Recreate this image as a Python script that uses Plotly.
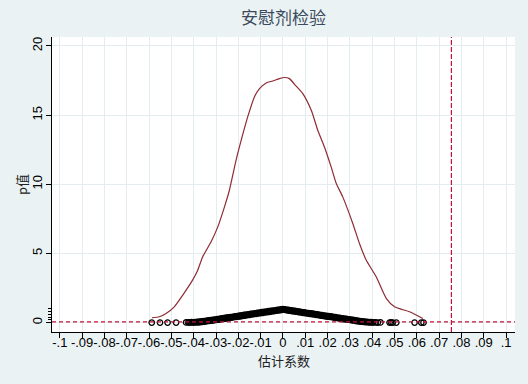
import plotly.graph_objects as go

# ---- data ----
# kernel density of placebo coefficients (x = coefficient, y = density)
dens_x = [-0.0587, -0.0554, -0.0524, -0.0487, -0.0449, -0.0405, -0.0382, -0.0360,
          -0.0322, -0.0292, -0.0262, -0.0240, -0.0210, -0.0187, -0.0158, -0.0128,
          -0.0105, -0.0075, -0.0046, -0.0016, 0.0007, 0.0029, 0.0052, 0.0089,
          0.0127, 0.0156, 0.0186, 0.0216, 0.0239, 0.0268, 0.0313, 0.0343,
          0.0373, 0.0418, 0.0463, 0.0500, 0.0567, 0.0627]
dens_y = [0.35, 0.42, 0.66, 1.14, 1.99, 3.07, 3.79, 4.75,
          5.84, 6.92, 8.37, 9.57, 11.75, 13.19, 14.87, 16.32,
          16.92, 17.33, 17.47, 17.64, 17.72, 17.64, 17.23, 16.56,
          15.35, 13.91, 12.70, 11.26, 10.06, 9.09, 7.17, 5.72,
          4.52, 3.31, 1.75, 1.14, 0.78, 0.30]

# estimated coefficients and p-values of the placebo regressions
coef = [-0.0588, -0.0551, -0.0517, -0.0479, -0.0434,
        -0.0425, -0.0420, -0.0415, -0.0410, -0.0405, -0.0400, -0.0395, -0.0390,
        -0.0385, -0.0380, -0.0375, -0.0370, -0.0365, -0.0360, -0.0355, -0.0350,
        -0.0345, -0.0340, -0.0335, -0.0330, -0.0325, -0.0320, -0.0315, -0.0310,
        -0.0305, -0.0300, -0.0295, -0.0290, -0.0285, -0.0280, -0.0275, -0.0270,
        -0.0265, -0.0260, -0.0255, -0.0250, -0.0245, -0.0240, -0.0235, -0.0230,
        -0.0225, -0.0220, -0.0215, -0.0210, -0.0205, -0.0200, -0.0195, -0.0190,
        -0.0185, -0.0180, -0.0175, -0.0170, -0.0165, -0.0160, -0.0155, -0.0150,
        -0.0145, -0.0140, -0.0135, -0.0130, -0.0125, -0.0120, -0.0115, -0.0110,
        -0.0105, -0.0100, -0.0095, -0.0090, -0.0085, -0.0080, -0.0075, -0.0070,
        -0.0065, -0.0060, -0.0055, -0.0050, -0.0045, -0.0040, -0.0035, -0.0030,
        -0.0025, -0.0020, -0.0015, -0.0010, -0.0005, 0.0000,
        0.0005, 0.0010, 0.0015, 0.0020, 0.0025, 0.0030, 0.0035, 0.0040,
        0.0045, 0.0050, 0.0055, 0.0060, 0.0065, 0.0070, 0.0075, 0.0080,
        0.0085, 0.0090, 0.0095, 0.0100, 0.0105, 0.0110, 0.0115, 0.0120,
        0.0125, 0.0130, 0.0135, 0.0140, 0.0145, 0.0150, 0.0155, 0.0160,
        0.0165, 0.0170, 0.0175, 0.0180, 0.0185, 0.0190, 0.0195, 0.0200,
        0.0205, 0.0210, 0.0215, 0.0220, 0.0225, 0.0230, 0.0235, 0.0240,
        0.0245, 0.0250, 0.0255, 0.0260, 0.0265, 0.0270, 0.0275, 0.0280,
        0.0285, 0.0290, 0.0295, 0.0300, 0.0305, 0.0310, 0.0315, 0.0320,
        0.0325, 0.0330, 0.0335, 0.0340, 0.0345, 0.0350, 0.0355, 0.0360,
        0.0365, 0.0370, 0.0375, 0.0380, 0.0385, 0.0390, 0.0395, 0.0400,
        0.0405, 0.0415, 0.0425, 0.0437, 0.0478, 0.0485, 0.0492, 0.0508,
        0.0590, 0.0620, 0.0630]
pval = [0.00, 0.00, 0.00, 0.00, 0.01,
        0.01, 0.02, 0.01, 0.03, 0.02, 0.01, 0.03, 0.02,
        0.05, 0.02, 0.06, 0.03, 0.08, 0.05, 0.10, 0.08,
        0.12, 0.10, 0.15, 0.12, 0.17, 0.14, 0.20, 0.17,
        0.22, 0.20, 0.25, 0.22, 0.27, 0.24, 0.30, 0.27,
        0.32, 0.29, 0.35, 0.31, 0.37, 0.34, 0.40, 0.36,
        0.42, 0.39, 0.45, 0.41, 0.47, 0.44, 0.50, 0.46,
        0.52, 0.49, 0.55, 0.51, 0.57, 0.54, 0.60, 0.56,
        0.62, 0.59, 0.65, 0.61, 0.67, 0.64, 0.70, 0.66,
        0.72, 0.69, 0.75, 0.71, 0.77, 0.74, 0.79, 0.76,
        0.82, 0.78, 0.84, 0.81, 0.87, 0.83, 0.89, 0.86,
        0.91, 0.88, 0.94, 0.91, 0.96, 0.98,
        0.95, 0.92, 0.94, 0.89, 0.91, 0.86, 0.89, 0.84,
        0.86, 0.81, 0.84, 0.79, 0.81, 0.76, 0.79, 0.74,
        0.76, 0.71, 0.74, 0.69, 0.71, 0.66, 0.69, 0.64,
        0.66, 0.61, 0.64, 0.59, 0.61, 0.56, 0.59, 0.54,
        0.56, 0.51, 0.54, 0.49, 0.51, 0.46, 0.49, 0.44,
        0.46, 0.41, 0.44, 0.39, 0.41, 0.36, 0.39, 0.34,
        0.36, 0.31, 0.34, 0.29, 0.31, 0.26, 0.29, 0.24,
        0.26, 0.21, 0.24, 0.19, 0.21, 0.16, 0.19, 0.14,
        0.16, 0.11, 0.14, 0.09, 0.11, 0.07, 0.09, 0.05,
        0.07, 0.04, 0.05, 0.03, 0.04, 0.02, 0.03, 0.02,
        0.01, 0.01, 0.00, 0.01, 0.00, 0.01, 0.00, 0.00,
        0.00, 0.00, 0.00]

true_coef = 0.0755      # vertical reference line (actual estimate)
p_ref = 0.05            # horizontal reference line

x_tickvals = [-0.1, -0.09, -0.08, -0.07, -0.06, -0.05, -0.04, -0.03, -0.02, -0.01,
              0, 0.01, 0.02, 0.03, 0.04, 0.05, 0.06, 0.07, 0.08, 0.09, 0.1]
x_ticktext = ["-.1", "-.09", "-.08", "-.07", "-.06", "-.05", "-.04", "-.03", "-.02", "-.01",
              "0", ".01", ".02", ".03", ".04", ".05", ".06", ".07", ".08", ".09", ".1"]
y_tickvals = [0, 5, 10, 15, 20]
y_minor = [0.2, 0.4, 0.6, 0.8, 1.0]

title_text = "安慰剂检验"
x_title = "估计系数"
y_title = "p值"

FONT = "Liberation Sans, Arial, Noto Sans CJK SC, sans-serif"
CJK = "Noto Sans CJK SC, sans-serif"
BG = "#EAF2F3"
GRID = "#E3ECEE"
RED = "#C0143C"

fig = go.Figure()
fig.add_trace(go.Scatter(x=dens_x, y=dens_y, mode="lines",
                         line=dict(color="#8E2B33", width=1.2, shape="spline", smoothing=0.6),
                         showlegend=False, hoverinfo="skip"))
fig.add_trace(go.Scatter(x=coef, y=pval, mode="markers",
                         marker=dict(symbol="circle-open", size=5.5, color="black",
                                     line=dict(width=1.3, color="black")),
                         showlegend=False))

fig.add_shape(type="line", xref="x", yref="paper", x0=true_coef, x1=true_coef, y0=0, y1=1,
              line=dict(color=RED, width=1.2, dash="5px,2px"), layer="above")
fig.add_shape(type="line", xref="paper", yref="y", x0=0, x1=1, y0=p_ref, y1=p_ref,
              line=dict(color=RED, width=1.2, dash="4px,3px"), layer="above")

fig.add_annotation(text=x_title, xref="paper", yref="paper", x=0.5, y=-0.097,
                   xanchor="center", yanchor="middle", showarrow=False,
                   font=dict(family=CJK, size=13, color="#222"))
fig.add_annotation(text=y_title, xref="paper", yref="paper", x=-0.066, y=0.50,
                   xanchor="center", yanchor="middle", showarrow=False, textangle=-90,
                   font=dict(family=CJK, size=13, color="#222"))

fig.update_layout(
    width=528, height=384,
    margin=dict(l=52, r=13, t=37, b=52),
    paper_bgcolor=BG, plot_bgcolor="white",
    font=dict(family=FONT, size=13, color="black"),
    title=dict(text=title_text, x=0.537, xanchor="center", y=0.952, yanchor="middle",
               font=dict(family=CJK, size=17, color="#3A4A5C")),
)
fig.update_xaxes(range=[-0.1035, 0.104], tickvals=x_tickvals, ticktext=x_ticktext,
                 tickangle=0, automargin=False, ticklabelstandoff=-7,
                 showgrid=True, gridcolor=GRID, gridwidth=1, zeroline=False,
                 showline=True, linecolor="black", linewidth=1,
                 ticks="outside", ticklen=5, tickcolor="black",
                 tickfont=dict(size=13))
fig.update_yaxes(range=[-0.68, 20.65], tickvals=y_tickvals, tickangle=-90,
                 automargin=False, ticklabelstandoff=-1,
                 showgrid=True, gridcolor=GRID, gridwidth=1, zeroline=False,
                 showline=True, linecolor="black", linewidth=1,
                 ticks="outside", ticklen=5, tickcolor="black",
                 tickfont=dict(size=13),
                 minor=dict(tickvals=y_minor, ticks="outside", ticklen=3, tickcolor="black",
                            showgrid=False))

fig.write_html("out.html")
